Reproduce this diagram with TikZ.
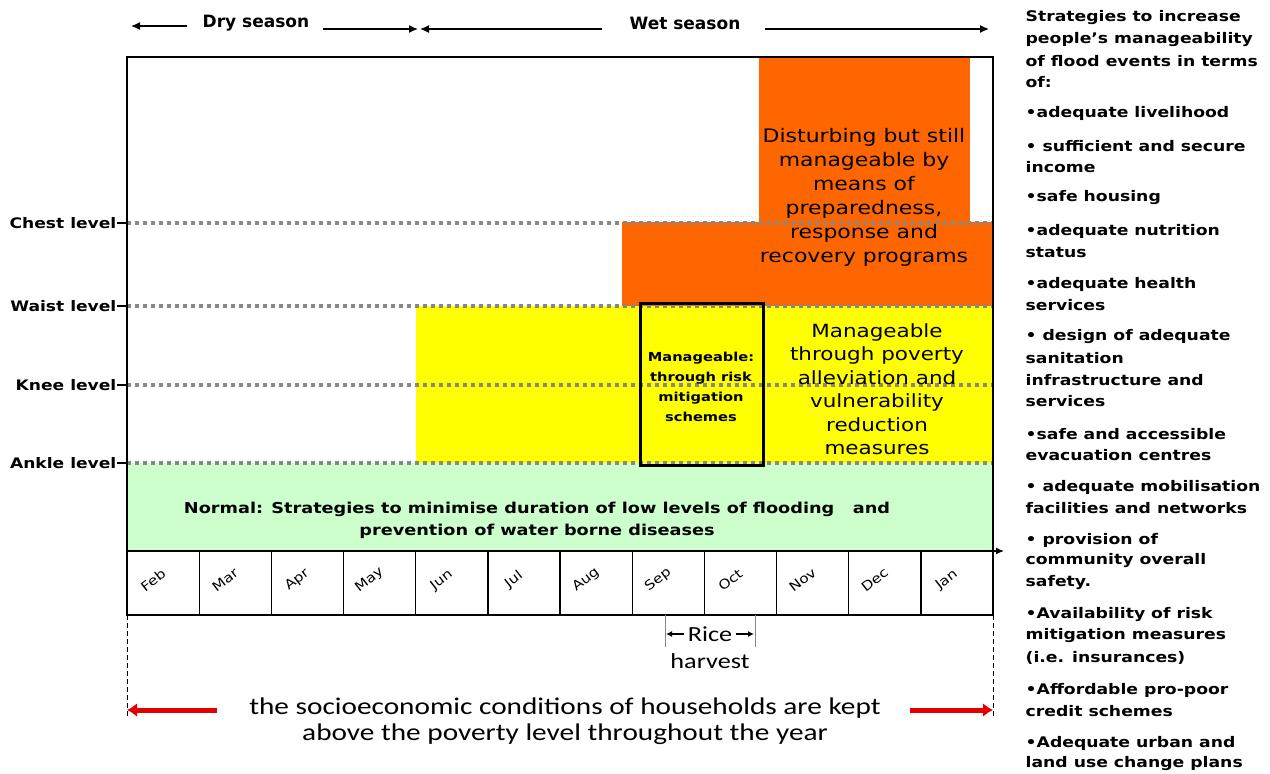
\documentclass[tikz,border=0pt]{standalone}
\usepackage{fontspec}
\setmainfont{DejaVu Sans}[FakeStretch=1.18]
\newfontfamily\seasonfont{DejaVu Sans}
\newfontfamily\calfont{Carlito}[FakeStretch=1.22]
\usetikzlibrary{arrows.meta,positioning}

\definecolor{floodorange}{RGB}{255,102,0}
\definecolor{floodyellow}{RGB}{255,255,0}
\definecolor{floodgreen}{RGB}{204,255,204}
\definecolor{dotgray}{RGB}{135,135,135}
\definecolor{arrowred}{RGB}{226,0,0}

\tikzset{
every node/.style={inner sep=0pt},
level/.style={anchor=east, font=\bfseries\fontsize{14.5}{16}\selectfont},
dotline/.style={dotgray, line width=3.5pt, dash pattern=on 4pt off 4pt},
season/.style={font=\seasonfont\bfseries\fontsize{17}{19}\selectfont},
seasonarrow/.style={line width=1.3pt, -{Latex[length=9pt,width=8pt]}},
month/.style={rotate=38, font=\fontsize{13}{14}\selectfont},
bigtext/.style={align=center, font=\fontsize{18.6}{24}\selectfont},
side/.style={anchor=west, font=\bfseries\fontsize{14.6}{16}\selectfont},
cal/.style={font=\calfont\fontsize{24}{26}\selectfont}
}

\begin{document}
\begin{tikzpicture}[x=1pt, y=-1pt, line width=1.3pt]
\useasboundingbox (0,0) rectangle (1270,774);

% coloured zones
\fill[floodgreen] (127,463) rectangle (993,551);
\fill[floodyellow] (416,306) rectangle (993,463);
\fill[floodorange] (622,222) rectangle (993,306);
\fill[floodorange] (759,57) rectangle (970,222);

% water levels
\foreach \n/\t/\y in {chest/Chest level/223, waist/Waist level/306, knee/Knee level/385, ankle/Ankle level/463}{
  \node[level] (\n) at (117,\y) {\t};
  \coordinate (\n L) at (127,\y);
  \coordinate (\n R) at (993,\y);
  \draw (\n) -- (\n L);
  \draw[dotline] (\n L) -- (\n R);
}

% frame and time axis
\draw (127,615) -- (127,57) -- (993,57) -- (993,615) -- cycle;
\coordinate (axisL) at (127,551);
\coordinate (axisR) at (1004,551);
\draw[-{Latex[length=8pt,width=7pt]}] (axisL) -- (axisR);
\foreach \i in {1,...,11}
  \draw ({127+72.17*\i},551) -- ({127+72.17*\i},615);
\foreach \m [count=\i from 0] in {Feb,Mar,Apr,May,Jun,Jul,Aug,Sep,Oct,Nov,Dec,Jan}
  \node[month] (m\i) at ({153+72.17*\i},580) {\m};

% mitigation box
\draw[line width=3pt] (640,303) rectangle (763,465);
\node[align=center, font=\bfseries\fontsize{12.4}{20}\selectfont] (risk) at (701,387)
  {Manageable:\\through risk\\mitigation\\schemes};

\node[bigtext, font=\fontsize{18.2}{23.5}\selectfont] (poverty) at (877,389)
  {Manageable\\through poverty\\alleviation and\\vulnerability\\reduction\\measures};
\node[bigtext] (disturb) at (864,197)
  {Disturbing but still\\manageable by\\means of\\preparedness,\\response and\\recovery programs};
\node[align=center, font=\bfseries\fontsize{15}{22}\selectfont] (normal) at (537,520)
  {Normal: Strategies to minimise duration of low levels of flooding\ \ \ and\\prevention of water borne diseases};

% seasons
\node[season] (dry) at (256,23) {Dry season};
\node[season] (wet) at (685,23) {Wet season};
\coordinate (dryL) at (131,26);
\coordinate (dryR) at (418,29);
\coordinate (wetL) at (420,29);
\coordinate (wetR) at (989,29);
\draw[seasonarrow] (187,26) -- (dryL);
\draw[seasonarrow] (323,29) -- (dryR);
\draw[seasonarrow] (602,29) -- (wetL);
\draw[seasonarrow] (765,29) -- (wetR);

% rice harvest
\draw[dotgray, line width=1pt] (665,615) -- (665,647);
\draw[dotgray, line width=1pt] (755,615) -- (755,647);
\node[cal, font=\calfont\fontsize{21.5}{24}\selectfont] (rice) at (710,634) {Rice};
\node[cal, font=\calfont\fontsize{21.5}{24}\selectfont] (harvest) at (710,661) {harvest};
\coordinate (riceL) at (666,634);
\coordinate (riceR) at (754,634);
\draw[-{Latex[length=6pt,width=6pt]}] ([xshift=-3pt]rice.west) -- (riceL);
\draw[-{Latex[length=6pt,width=6pt]}] ([xshift=3pt]rice.east) -- (riceR);

% whole year
\draw[dash pattern=on 5pt off 3pt, line width=0.8pt] (127,615) -- (127,716);
\draw[dash pattern=on 5pt off 3pt, line width=0.8pt] (993,615) -- (993,716);
\node[cal, align=center] (socio) at (565,721)
  {the socioeconomic conditions of households are kept\\above the poverty level throughout the year};
\coordinate (yearL) at (127,710);
\coordinate (yearR) at (993,710);
\draw[arrowred, line width=5pt, -{Latex[length=10pt,width=14pt]}] (217,710) -- (yearL);
\draw[arrowred, line width=5pt, -{Latex[length=10pt,width=14pt]}] (910,710) -- (yearR);

% strategies
\foreach \y/\t in {18/Strategies to increase, 40/people’s manageability, 61/of flood events in terms, 82/of:,
  113/•adequate livelihood, 146/• sufficient and secure, 167/income, 198/•safe housing,
  231/•adequate nutrition, 252/status, 284/•adequate health, 305/services,
  337/• design of adequate, 358/sanitation, 380/infrastructure and, 401/services,
  434/•safe and accessible, 455/evacuation centres, 487/• adequate mobilisation, 508/facilities and networks,
  540/• provision of, 561/community overall, 583/safety., 615/•Availability of risk,
  636/mitigation measures, 658/(i.e. insurances), 690/•Affordable pro-poor, 711/credit schemes,
  743/•Adequate urban and, 764/land use change plans}
  \node[side] at (1025,\y) {\t};
\end{tikzpicture}
\end{document}
